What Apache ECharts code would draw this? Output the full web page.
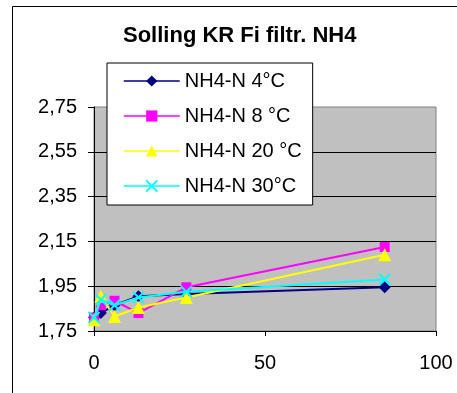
<!DOCTYPE html>
<html>
<head>
<meta charset="utf-8">
<script src="https://cdn.jsdelivr.net/npm/echarts@6/dist/echarts.min.js"></script>
<style>
  html, body { margin: 0; padding: 0; background: #fff; }
  #chart { width: 457px; height: 393px; }
</style>
</head>
<body>
<div id="chart"></div>
<script>
// Incubation time (days) and NH4-N readings per temperature
const days = [0, 2, 6, 13, 27, 85];
const nh4_4C  = [1.81, 1.83, 1.865, 1.905, 1.915, 1.945];
const nh4_8C  = [1.81, 1.865, 1.885, 1.83, 1.945, 2.125];
const nh4_20C = [1.80, 1.905, 1.815, 1.855, 1.90, 2.09];
const nh4_30C = [1.81, 1.89, 1.865, 1.90, 1.925, 1.98];
const seriesNames = ['NH4-N 4°C', 'NH4-N 8 °C', 'NH4-N 20 °C', 'NH4-N 30°C'];
const xTicks = [0, 50, 100];
const yTicks = [1.75, 1.95, 2.15, 2.35, 2.55, 2.75];

const FONT = '"Liberation Sans", Arial, sans-serif';
const pairs = vals => days.map((d, i) => [d, vals[i]]);

const styles = [
  { color: '#000080', symbol: 'diamond', size: 12 },
  { color: '#FF00FF', symbol: 'rect', size: 10 },
  { color: '#FFFF00', symbol: 'triangle', size: 13 },
  { color: '#00FFFF', symbol: 'path://M0,0L10,10M10,0L0,10', size: 11 }
];
const allValues = [nh4_4C, nh4_8C, nh4_20C, nh4_30C];

const chart = echarts.init(document.getElementById('chart'), null, { renderer: 'canvas' });

chart.setOption({
  animation: false,
  backgroundColor: '#ffffff',
  textStyle: { fontFamily: FONT },
  graphic: [{
    type: 'rect',
    shape: { x: 12.5, y: 6.5, width: 500, height: 500 },
    style: { fill: 'none', stroke: '#000', lineWidth: 1 },
    silent: true,
    z: -10
  }],
  title: {
    text: 'Solling KR Fi filtr. NH4',
    left: 123,
    top: 25,
    padding: 0,
    textStyle: { fontFamily: FONT, fontSize: 22, fontWeight: 'bold', color: '#000' }
  },
  legend: {
    orient: 'vertical',
    left: 107,
    top: 63,
    padding: [7, 11, 8, 16],
    itemWidth: 56,
    itemHeight: 14,
    itemGap: 13,
    backgroundColor: '#ffffff',
    borderColor: '#000000',
    borderWidth: 1,
    borderRadius: 0,
    data: seriesNames,
    textStyle: { fontFamily: FONT, fontSize: 20, color: '#000', lineHeight: 22 },
    lineStyle: { width: 1.5 },
    z: 10
  },
  grid: {
    left: 94,
    right: 21,
    top: 107,
    bottom: 62,
    show: true,
    backgroundColor: '#C0C0C0',
    borderColor: '#808080',
    borderWidth: 1,
    containLabel: false,
    outerBoundsMode: 'none'
  },
  xAxis: {
    type: 'value',
    min: xTicks[0],
    max: xTicks[xTicks.length - 1],
    interval: xTicks[1] - xTicks[0],
    axisLine: { show: true, lineStyle: { color: '#000', width: 1 } },
    axisTick: { show: true, inside: false, length: 5, lineStyle: { color: '#000' } },
    axisLabel: { margin: 22, fontFamily: FONT, fontSize: 20, color: '#000' },
    splitLine: { show: false }
  },
  yAxis: {
    type: 'value',
    min: yTicks[0],
    max: yTicks[yTicks.length - 1],
    interval: 0.2,
    axisLine: { show: true, lineStyle: { color: '#000', width: 1 } },
    axisTick: { show: true, inside: false, length: 6, lineStyle: { color: '#000' } },
    axisLabel: {
      margin: 17,
      fontFamily: FONT,
      fontSize: 20,
      color: '#000',
      formatter: v => v.toFixed(2).replace('.', ',')
    },
    splitLine: { show: true, showMinLine: false, showMaxLine: false, lineStyle: { color: '#000', width: 1 } }
  },
  series: seriesNames.map((name, i) => ({
    name: name,
    type: 'line',
    data: pairs(allValues[i]),
    symbol: styles[i].symbol,
    symbolSize: styles[i].size,
    showSymbol: true,
    showAllSymbol: true,
    lineStyle: { color: styles[i].color, width: 2 },
    itemStyle: {
      color: styles[i].color,
      borderColor: styles[i].color,
      borderWidth: i === 3 ? 2 : 0
    },
    z: 2 + i
  }))
});
</script>
</body>
</html>
